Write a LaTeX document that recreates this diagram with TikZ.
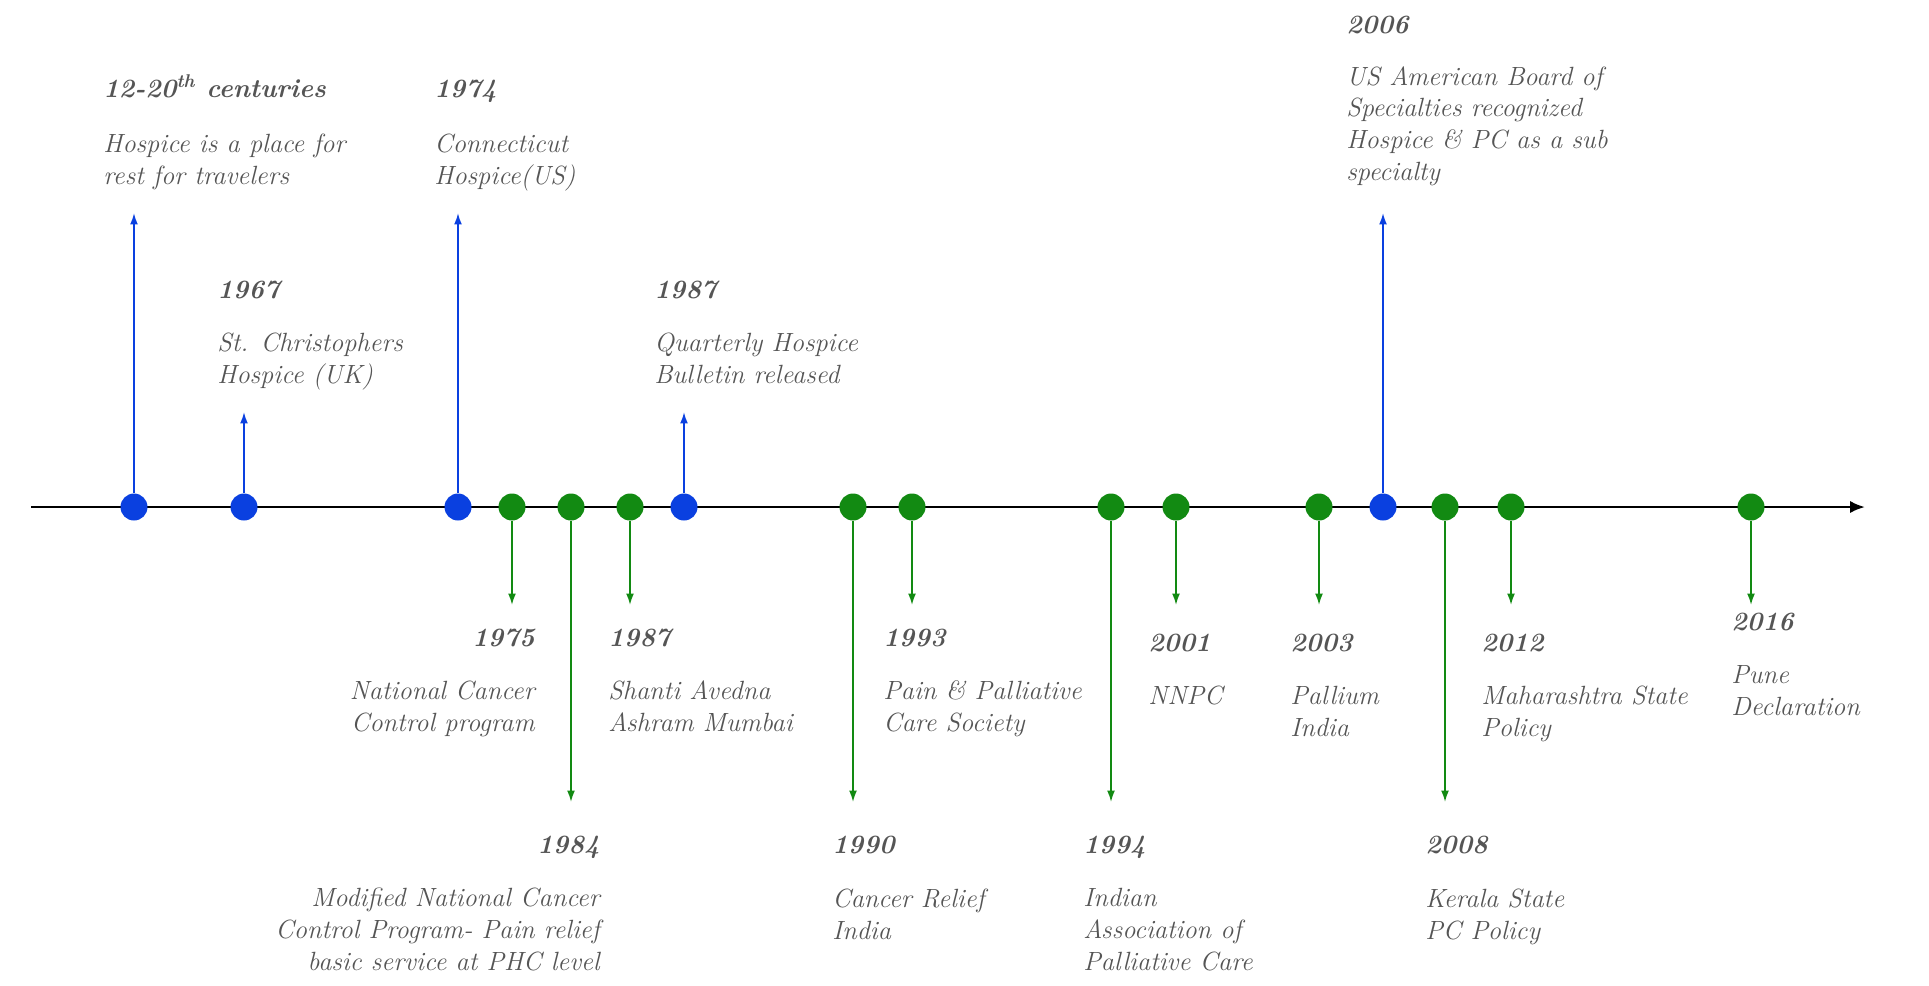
\documentclass[tikz,border=0pt]{standalone}
\usepackage{tikz}
\usetikzlibrary{arrows.meta}

\definecolor{eventblue}{RGB}{10,64,224}
\definecolor{eventgreen}{RGB}{18,138,18}
\definecolor{textgray}{RGB}{85,85,85}

\begin{document}
\begin{tikzpicture}[
    x=0.02cm,
    y=-0.02cm,
    >={Latex[length=6.5pt,width=4.5pt]},
    axis/.style={
        -{Latex[length=8.5pt,width=7pt]},
        draw=black,
        line width=1.5pt
    },
    bluedot/.style={
        circle,
        fill=eventblue,
        inner sep=0pt,
        minimum size=0.54cm
    },
    greendot/.style={
        circle,
        fill=eventgreen,
        inner sep=0pt,
        minimum size=0.54cm
    },
    uparrow/.style={
        ->,
        draw=eventblue,
        line width=1pt
    },
    downarrow/.style={
        ->,
        draw=eventgreen,
        line width=1pt
    },
    desc/.style={
        font=\fontsize{15}{18}\selectfont\itshape,
        text=textgray,
        inner sep=0pt,
        align=left
    },
    year/.style={
        desc,
        font=\fontsize{15}{18}\selectfont\bfseries\itshape
    }
]

\useasboundingbox (0,0) rectangle (1929,985);

% Vertical position of the time axis
\def\AxisY{507}

% Descriptions are anchored at the baseline of their last line

% ==================================================
% Time axis
% ==================================================

\coordinate (axisstart) at (31,\AxisY);
\coordinate (axisend) at (1865,\AxisY);
\draw[axis] (axisstart) -- (axisend);

% ==================================================
% Events above the axis
% ==================================================

\node[bluedot] (p1200) at (134,\AxisY) {};
\coordinate (a1200) at (134,213);
\draw[uparrow] (p1200) -- (a1200);
\node[year, anchor=base west] (y1200) at (103,97)
    {12-20\textsuperscript{th} centuries};
\node[desc, anchor=base west] (t1200) at (103,184)
    {Hospice is a place for\\rest for travelers};

\node[bluedot] (p1967) at (244,\AxisY) {};
\coordinate (a1967) at (244,412);
\draw[uparrow] (p1967) -- (a1967);
\node[year, anchor=base west] (y1967) at (217,298) {1967};
\node[desc, anchor=base west] (t1967) at (217,383)
    {St. Christophers\\Hospice (UK)};

\node[bluedot] (p1974) at (458,\AxisY) {};
\coordinate (a1974) at (458,213);
\draw[uparrow] (p1974) -- (a1974);
\node[year, anchor=base west] (y1974) at (434,97) {1974};
\node[desc, anchor=base west] (t1974) at (434,184)
    {Connecticut\\Hospice(US)};

\node[bluedot] (p1987b) at (684,\AxisY) {};
\coordinate (a1987b) at (684,412);
\draw[uparrow] (p1987b) -- (a1987b);
\node[year, anchor=base west] (y1987b) at (654,298) {1987};
\node[desc, anchor=base west] (t1987b) at (654,383)
    {Quarterly Hospice\\Bulletin released};

\node[bluedot] (p2006) at (1383,\AxisY) {};
\coordinate (a2006) at (1383,213);
\draw[uparrow] (p2006) -- (a2006);
\node[year, anchor=base west] (y2006) at (1346,33) {2006};
\node[desc, anchor=base west] (t2006) at (1346,180)
    {US American Board of\\Specialties recognized\\Hospice \& PC as a sub\\specialty};

% ==================================================
% Events below the axis
% ==================================================

\node[greendot] (p1975) at (512,\AxisY) {};
\coordinate (a1975) at (512,605);
\draw[downarrow] (p1975) -- (a1975);
\node[year, anchor=base east] (y1975) at (535,646) {1975};
\node[desc, align=right, anchor=base east] (t1975) at (535,731)
    {National Cancer\\Control program};

\node[greendot] (p1984) at (571,\AxisY) {};
\coordinate (a1984) at (571,802);
\draw[downarrow] (p1984) -- (a1984);
\node[year, anchor=base east] (y1984) at (600,853) {1984};
\node[desc, align=right, anchor=base east] (t1984) at (600,970)
    {Modified National Cancer\\Control Program- Pain relief\\basic service at PHC level};

\node[greendot] (p1987a) at (630,\AxisY) {};
\coordinate (a1987a) at (630,605);
\draw[downarrow] (p1987a) -- (a1987a);
\node[year, anchor=base west] (y1987a) at (608,646) {1987};
\node[desc, anchor=base west] (t1987a) at (608,731)
    {Shanti Avedna\\Ashram Mumbai};

\node[greendot] (p1990) at (853,\AxisY) {};
\coordinate (a1990) at (853,802);
\draw[downarrow] (p1990) -- (a1990);
\node[year, anchor=base west] (y1990) at (832,853) {1990};
\node[desc, anchor=base west] (t1990) at (832,939)
    {Cancer Relief\\India};

\node[greendot] (p1993) at (912,\AxisY) {};
\coordinate (a1993) at (912,605);
\draw[downarrow] (p1993) -- (a1993);
\node[year, anchor=base west] (y1993) at (883,646) {1993};
\node[desc, anchor=base west] (t1993) at (883,731)
    {Pain \& Palliative\\Care Society};

\node[greendot] (p1994) at (1111,\AxisY) {};
\coordinate (a1994) at (1111,802);
\draw[downarrow] (p1994) -- (a1994);
\node[year, anchor=base west] (y1994) at (1083,853) {1994};
\node[desc, anchor=base west] (t1994) at (1083,970)
    {Indian\\Association of\\Palliative Care};

\node[greendot] (p2001) at (1176,\AxisY) {};
\coordinate (a2001) at (1176,605);
\draw[downarrow] (p2001) -- (a2001);
\node[year, anchor=base west] (y2001) at (1148,651) {2001};
\node[desc, anchor=base west] (t2001) at (1148,704) {NNPC};

\node[greendot] (p2003) at (1319,\AxisY) {};
\coordinate (a2003) at (1319,605);
\draw[downarrow] (p2003) -- (a2003);
\node[year, anchor=base west] (y2003) at (1290,651) {2003};
\node[desc, anchor=base west] (t2003) at (1290,736)
    {Pallium\\India};

\node[greendot] (p2008) at (1445,\AxisY) {};
\coordinate (a2008) at (1445,802);
\draw[downarrow] (p2008) -- (a2008);
\node[year, anchor=base west] (y2008) at (1425,853) {2008};
\node[desc, anchor=base west] (t2008) at (1425,939)
    {Kerala State\\PC Policy};

\node[greendot] (p2012) at (1511,\AxisY) {};
\coordinate (a2012) at (1511,605);
\draw[downarrow] (p2012) -- (a2012);
\node[year, anchor=base west] (y2012) at (1481,651) {2012};
\node[desc, anchor=base west] (t2012) at (1481,736)
    {Maharashtra State\\Policy};

\node[greendot] (p2016) at (1751,\AxisY) {};
\coordinate (a2016) at (1751,605);
\draw[downarrow] (p2016) -- (a2016);
\node[year, anchor=base west] (y2016) at (1731,630) {2016};
\node[desc, anchor=base west] (t2016) at (1731,715)
    {Pune\\Declaration};

\end{tikzpicture}
\end{document}
